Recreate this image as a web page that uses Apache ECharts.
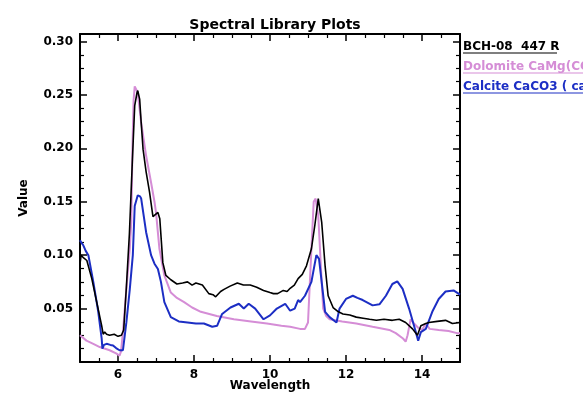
<!DOCTYPE html>
<html>
<head>
<meta charset="utf-8">
<script src="https://cdn.jsdelivr.net/npm/echarts@6/dist/echarts.min.js"></script>
<style>
  html, body { margin: 0; padding: 0; background: #fff; }
  #chart { width: 583px; height: 393px; }
</style>
</head>
<body>
<div id="chart"></div>
<script>
// spectra: wavelength / value pairs per curve
const bchWl = [5.00, 5.03, 5.08, 5.18, 5.31, 5.44, 5.57, 5.61, 5.65, 5.70, 5.78, 5.90, 6.00, 6.09, 6.15,
  6.22, 6.30, 6.38, 6.44, 6.50, 6.52, 6.57, 6.61, 6.66, 6.74, 6.83, 6.92, 6.96, 7.05, 7.10, 7.18, 7.26,
  7.39, 7.55, 7.70, 7.83, 7.95, 8.05, 8.22, 8.39, 8.50, 8.57, 8.70, 8.79, 8.95, 9.14, 9.30, 9.48, 9.65,
  9.83, 10.00, 10.09, 10.20, 10.35, 10.45, 10.53, 10.64, 10.74, 10.85, 10.96, 11.09, 11.18, 11.27, 11.36,
  11.45, 11.53, 11.66, 11.80, 11.92, 12.10, 12.27, 12.45, 12.62, 12.80, 13.00, 13.22, 13.40, 13.57, 13.75,
  13.88, 13.97, 14.10, 14.18, 14.40, 14.62, 14.80, 15.00]
const bchVal = [0.092, 0.100, 0.098, 0.095, 0.078, 0.056, 0.034, 0.026, 0.028, 0.026, 0.025, 0.026, 0.024, 0.025, 0.030,
  0.070, 0.120, 0.190, 0.240, 0.252, 0.254, 0.246, 0.224, 0.199, 0.178, 0.159, 0.136, 0.137, 0.140, 0.134, 0.093, 0.081,
  0.077, 0.073, 0.074, 0.075, 0.072, 0.074, 0.072, 0.064, 0.063, 0.061, 0.066, 0.068, 0.071, 0.074, 0.072, 0.072, 0.070,
  0.067, 0.065, 0.064, 0.064, 0.067, 0.066, 0.069, 0.072, 0.078, 0.082, 0.090, 0.106, 0.128, 0.153, 0.131,
  0.090, 0.062, 0.051, 0.047, 0.045, 0.044, 0.042, 0.041, 0.040, 0.039, 0.040, 0.039, 0.040, 0.037, 0.031,
  0.025, 0.034, 0.036, 0.037, 0.038, 0.039, 0.036, 0.037]

const dolWl = [5.00, 5.17, 5.35, 5.52, 5.78, 5.95, 6.04, 6.08, 6.13, 6.22, 6.31, 6.35, 6.38, 6.41, 6.44,
  6.52, 6.61, 6.74, 6.87, 6.96, 7.00, 7.09, 7.22, 7.39, 7.55, 7.74, 7.95, 8.18, 8.60, 9.05, 9.50, 9.92,
  10.30, 10.53, 10.79, 10.92, 11.00, 11.09, 11.15, 11.20, 11.27, 11.36, 11.40, 11.48, 11.57, 11.90, 12.27,
  12.70, 13.14, 13.31, 13.50, 13.57, 13.62, 13.70, 13.79, 13.90, 14.00, 14.10, 14.20, 14.44, 14.70, 14.92, 15.00]
const dolVal = [0.025, 0.020, 0.017, 0.014, 0.011, 0.008, 0.006, 0.010, 0.028, 0.068, 0.106, 0.131, 0.200, 0.245, 0.258,
  0.252, 0.224, 0.193, 0.168, 0.150, 0.140, 0.106, 0.081, 0.065, 0.060, 0.056, 0.051, 0.047, 0.043, 0.040, 0.038, 0.036,
  0.034, 0.033, 0.031, 0.031, 0.037, 0.106, 0.150, 0.153, 0.137, 0.075, 0.050, 0.043, 0.040, 0.038, 0.036,
  0.033, 0.030, 0.027, 0.022, 0.019, 0.025, 0.040, 0.036, 0.032, 0.030, 0.036, 0.031, 0.030, 0.029, 0.027, 0.027]

const calWl = [5.00, 5.05, 5.09, 5.15, 5.22, 5.35, 5.48, 5.57, 5.59, 5.63, 5.70, 5.80, 5.87, 5.95, 6.04,
  6.13, 6.22, 6.31, 6.39, 6.44, 6.52, 6.58, 6.61, 6.74, 6.87, 6.96, 7.05, 7.13, 7.22, 7.39, 7.60, 7.83,
  8.05, 8.26, 8.48, 8.61, 8.74, 8.96, 9.18, 9.31, 9.44, 9.61, 9.83, 10.00, 10.18, 10.40, 10.53, 10.65,
  10.74, 10.79, 10.92, 11.09, 11.22, 11.29, 11.36, 11.45, 11.57, 11.75, 11.83, 12.00, 12.18, 12.30, 12.44,
  12.70, 12.88, 13.05, 13.22, 13.35, 13.49, 13.66, 13.79, 13.90, 13.97, 14.10, 14.27, 14.44, 14.62, 14.83, 15.00]
const calVal = [0.114, 0.111, 0.109, 0.104, 0.100, 0.075, 0.047, 0.022, 0.0125, 0.016, 0.017, 0.016, 0.0155, 0.013, 0.011,
  0.011, 0.037, 0.068, 0.100, 0.146, 0.156, 0.155, 0.153, 0.1215, 0.100, 0.092, 0.087, 0.075, 0.056, 0.042, 0.038, 0.037,
  0.036, 0.036, 0.033, 0.034, 0.045, 0.051, 0.0545, 0.050, 0.0545, 0.050, 0.040, 0.0436, 0.050, 0.0545, 0.048, 0.050,
  0.058, 0.056, 0.062, 0.075, 0.100, 0.0965, 0.075, 0.047, 0.042, 0.037, 0.050, 0.059, 0.062, 0.060, 0.058,
  0.053, 0.054, 0.062, 0.073, 0.0754, 0.0685, 0.050, 0.034, 0.020, 0.028, 0.031, 0.047, 0.059, 0.066, 0.067, 0.063]

const legendNames = ['BCH-08  447 R', 'Dolomite CaMg(CO3)2 (dolomite)', 'Calcite CaCO3 ( calcite )']
const colors = ['#000000', '#d58dd6', '#1c2ec4']

const zip = (xs, ys) => xs.map((x, i) => [x, ys[i]])
const FONT = '"DejaVu Sans", Verdana, sans-serif'

const chart = echarts.init(document.getElementById('chart'), null, { renderer: 'canvas' })

const tickCommon = {
  axisLine: { show: true, onZero: false, lineStyle: { color: '#000', width: 2 } },
  axisTick: { show: true, inside: true, length: 7, lineStyle: { color: '#000', width: 1.5 } },
  minorTick: { show: true, splitNumber: 4, length: 4, lineStyle: { color: '#000', width: 1.2 } },
  splitLine: { show: false },
  minorSplitLine: { show: false }
}

chart.setOption({
  animation: false,
  backgroundColor: '#fff',
  title: {
    text: 'Spectral Library Plots',
    left: 270, top: 13, textAlign: 'center',
    textStyle: { fontFamily: FONT, fontWeight: 'bold', fontSize: 14, color: '#000' }
  },
  grid: { left: 80, right: 123, top: 34, bottom: 31, containLabel: false, outerBoundsMode: 'none' },
  xAxis: [
    {
      type: 'value', min: 5, max: 15, splitNumber: 5, position: 'bottom',
      name: 'Wavelength', nameLocation: 'middle', nameGap: 18, nameMoveOverlap: false,
      nameTextStyle: { fontFamily: FONT, fontWeight: 'bold', fontSize: 12, color: '#000' },
      axisLabel: { color: '#000', fontFamily: FONT, fontWeight: 'bold', fontSize: 12, margin: 7,
        showMinLabel: false, showMaxLabel: false },
      ...tickCommon
    },
    {
      type: 'value', min: 5, max: 15, splitNumber: 5, position: 'top',
      axisLabel: { show: false },
      ...tickCommon
    }
  ],
  yAxis: [
    {
      type: 'value', min: 0, max: 0.307, interval: 0.05, position: 'left',
      name: 'Value', nameLocation: 'middle', nameGap: 50, nameMoveOverlap: false,
      nameTextStyle: { fontFamily: FONT, fontWeight: 'bold', fontSize: 12, color: '#000' },
      axisLabel: { color: '#000', fontFamily: FONT, fontWeight: 'bold', fontSize: 12, margin: 7,
        showMinLabel: false, showMaxLabel: false, formatter: v => v.toFixed(2) },
      ...tickCommon
    },
    {
      type: 'value', min: 0, max: 0.307, interval: 0.05, position: 'right',
      axisLabel: { show: false },
      ...tickCommon
    }
  ],
  series: [
    { name: legendNames[1], type: 'line', data: zip(dolWl, dolVal), showSymbol: false,
      lineStyle: { color: colors[1], width: 2 }, z: 2 },
    { name: legendNames[2], type: 'line', data: zip(calWl, calVal), showSymbol: false,
      lineStyle: { color: colors[2], width: 2 }, z: 3 },
    { name: legendNames[0], type: 'line', data: zip(bchWl, bchVal), showSymbol: false,
      lineStyle: { color: colors[0], width: 1.6 }, z: 4 }
  ],
  graphic: [
    ...legendNames.map((n, i) => ({
      type: 'text', x: 463, y: 47 + i * 20,
      style: { text: n, fill: colors[i], font: 'bold 12px ' + FONT, verticalAlign: 'middle' }
    })),
    ...legendNames.map((n, i) => ({
      type: 'line', shape: { x1: 463, y1: 53 + i * 20, x2: i === 0 ? 557 : 583, y2: 53 + i * 20 },
      style: { stroke: colors[i], lineWidth: 1.2 }
    }))
  ]
})
</script>
</body>
</html>
